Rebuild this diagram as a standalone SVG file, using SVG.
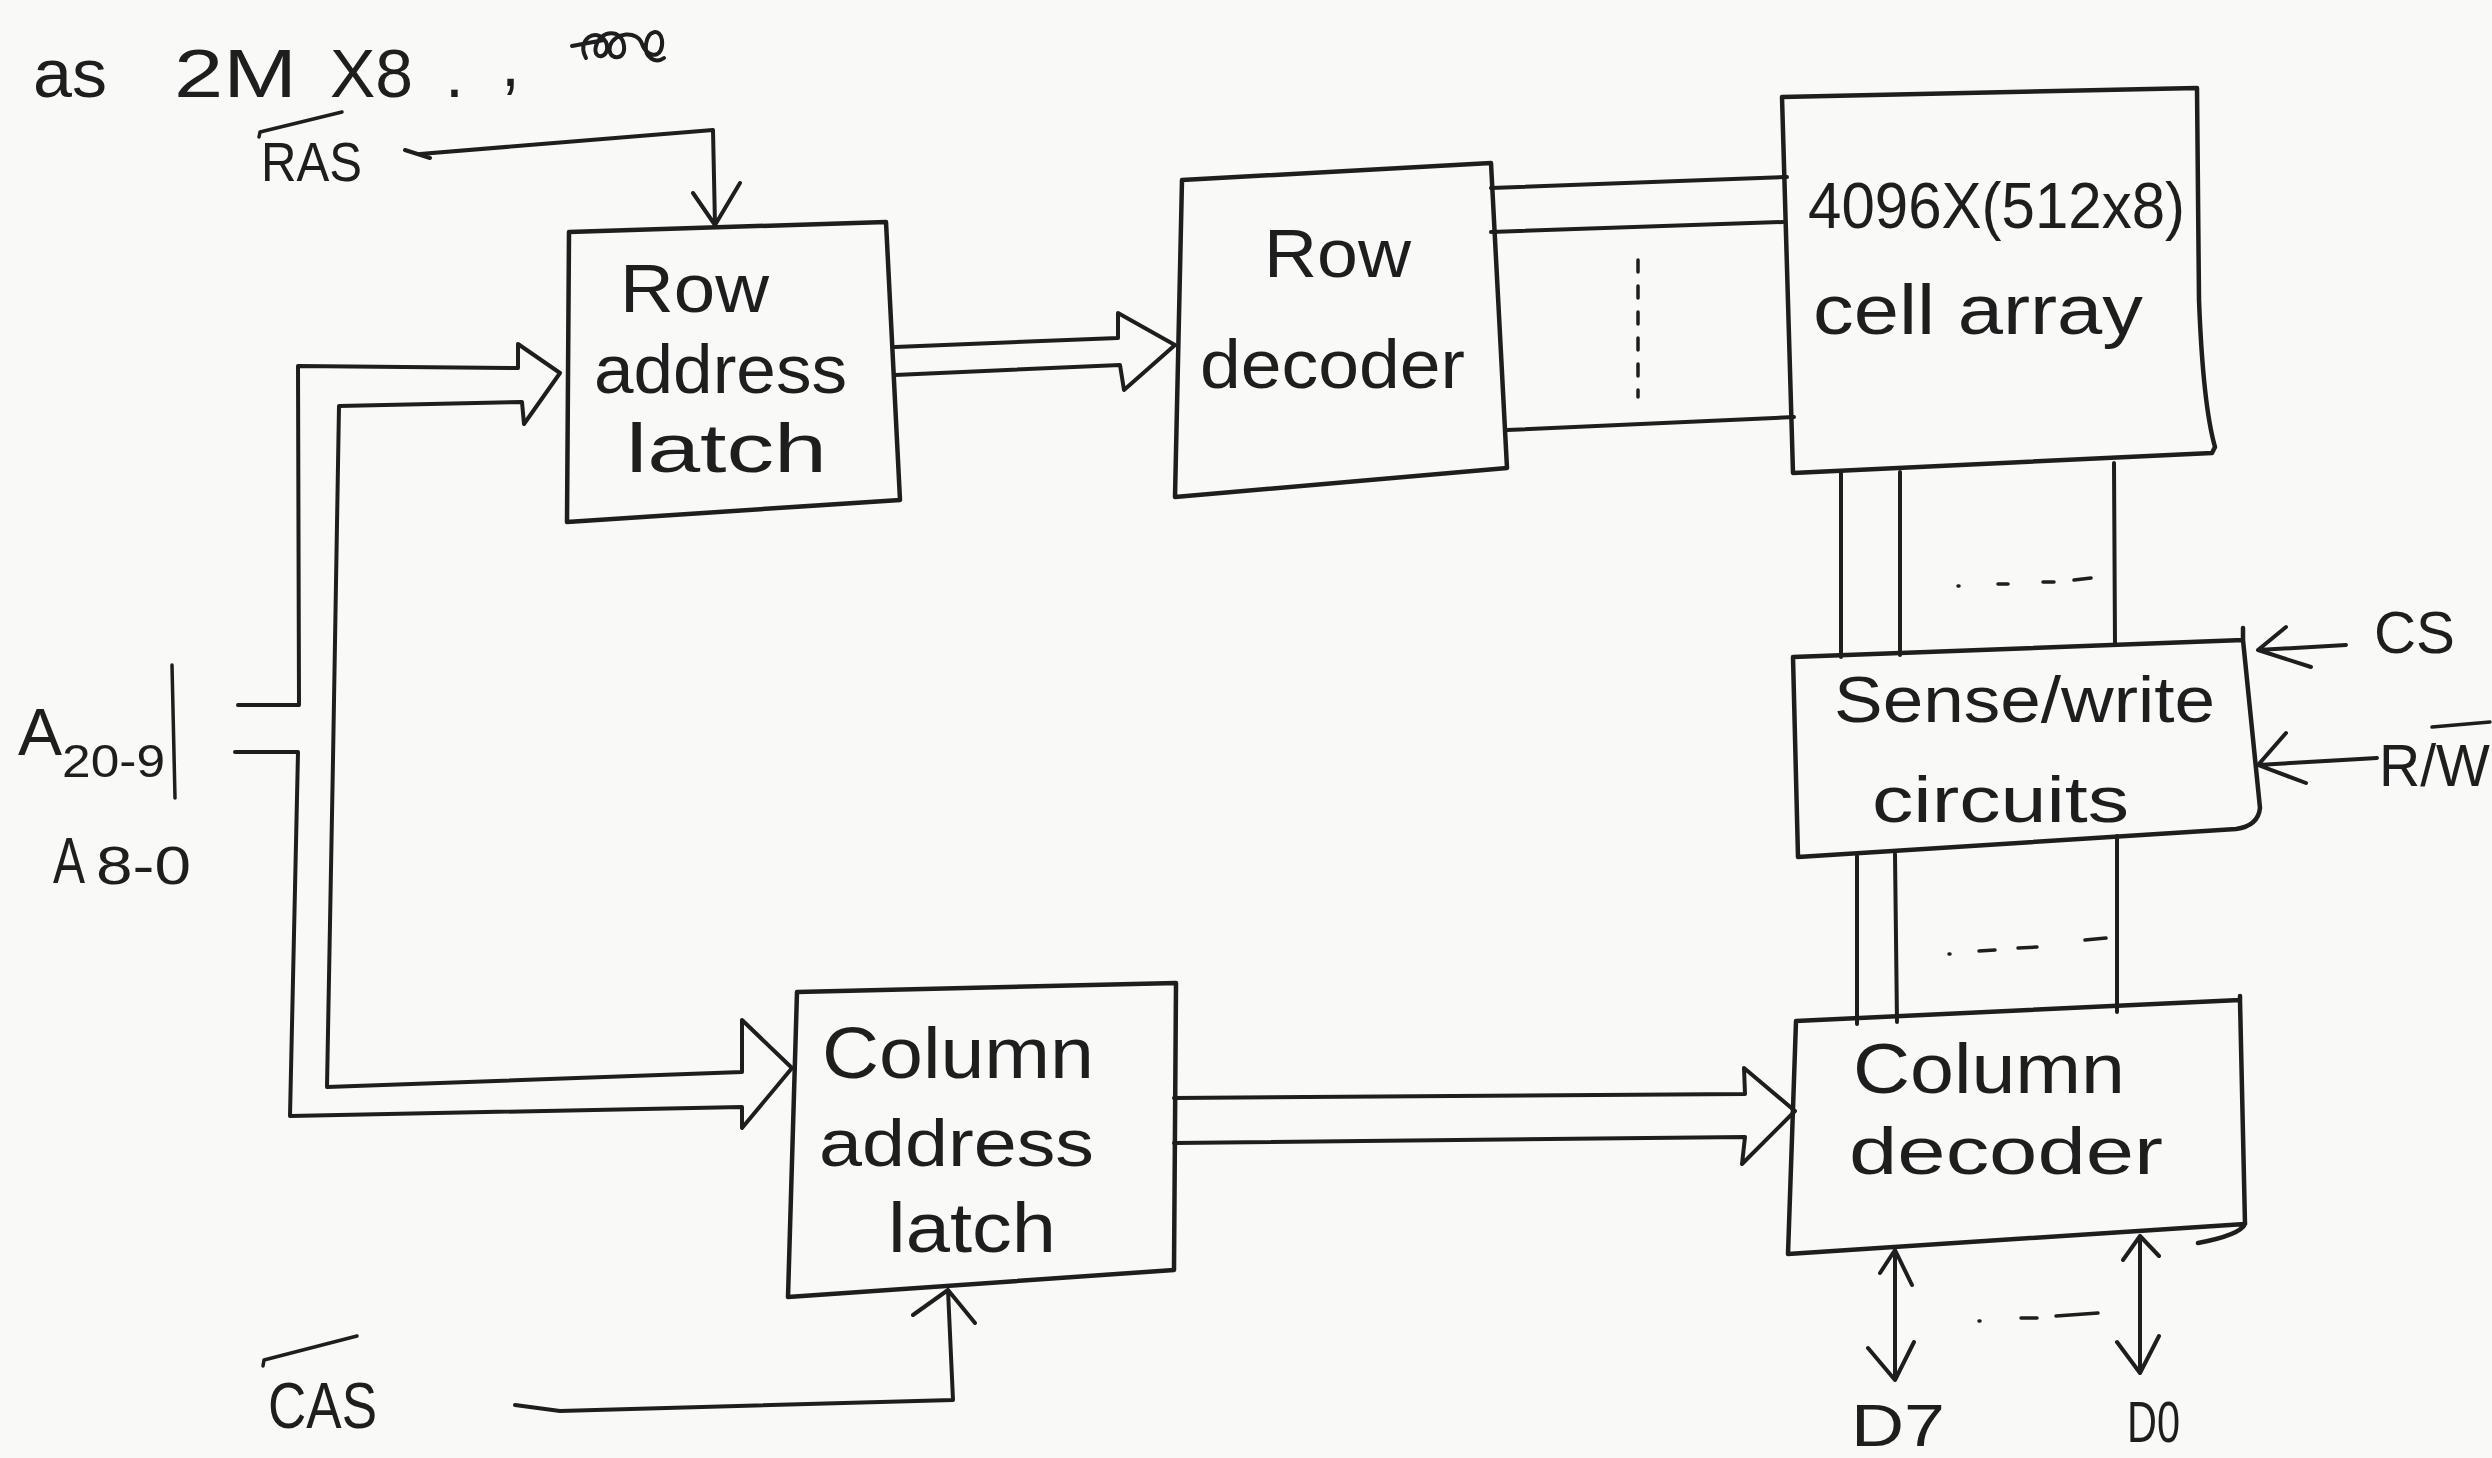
<svg xmlns="http://www.w3.org/2000/svg" width="2492" height="1458" viewBox="0 0 2492 1458">
<defs>
<style>
.ink{fill:none;stroke:#1e1e1e;stroke-width:4;stroke-linecap:round;stroke-linejoin:round}
.box{fill:none;stroke:#1e1e1e;stroke-width:4.5;stroke-linejoin:round;stroke-linecap:round}
.dash{fill:none;stroke:#1e1e1e;stroke-width:3.5;stroke-linecap:round}
.t{font-family:"Liberation Sans","DejaVu Sans",sans-serif;fill:#1e1e1e;font-size:68px}
</style>
</defs>
<rect x="0" y="0" width="2492" height="1458" fill="#f9f9f7"/>

<g id="title">
<text class="t" style="font-size:68px" x="33" y="97" textLength="74" lengthAdjust="spacingAndGlyphs">as</text>
<text class="t" style="font-size:68px" x="174" y="97" textLength="123" lengthAdjust="spacingAndGlyphs">2M</text>
<text class="t" style="font-size:68px" x="330" y="97" textLength="83" lengthAdjust="spacingAndGlyphs">X8</text>
<text class="t" style="font-size:68px" x="445" y="97">.</text>
<text class="t" style="font-size:68px" x="501" y="86">,</text>
<path class="ink" style="stroke-width:4" d="M572,46 L604,40 M586,58 C576,40 596,26 606,42 C612,58 592,62 596,46 C600,30 622,28 624,46 C626,62 606,60 610,46 C614,32 638,30 642,44 C648,60 664,58 662,40 C660,28 648,30 646,44 C644,58 656,64 664,58"/>
</g>

<g id="ras-label">
<text class="t" style="font-size:56px" x="261" y="181" textLength="101" lengthAdjust="spacingAndGlyphs">RAS</text>
<path class="ink" style="stroke-width:3.5" d="M259,137 L260,132 L342,112"/>
</g>

<g id="cas-label">
<text class="t" style="font-size:64px" x="268" y="1428" textLength="109" lengthAdjust="spacingAndGlyphs">CAS</text>
<path class="ink" style="stroke-width:3.5" d="M263,1366 L264,1360 L357,1336"/>
</g>

<g id="address-label">
<text class="t" x="18" y="755" style="font-size:66px">A<tspan style="font-size:46px" dy="22" textLength="103" lengthAdjust="spacingAndGlyphs">20-9</tspan></text>
<path class="ink" style="stroke-width:3.5" d="M172,665 L175,798"/>
<text class="t" style="font-size:64px" x="53" y="883" textLength="32" lengthAdjust="spacingAndGlyphs">A</text>
<text class="t" style="font-size:54px" x="96" y="884" textLength="95" lengthAdjust="spacingAndGlyphs">8-0</text>
</g>

<g id="cs-label">
<text class="t" style="font-size:60px" x="2374" y="653" textLength="81" lengthAdjust="spacingAndGlyphs">CS</text>
</g>
<g id="rw-label">
<text class="t" style="font-size:60px" x="2379" y="786" textLength="111" lengthAdjust="spacingAndGlyphs">R/W</text>
<path class="ink" style="stroke-width:3.5" d="M2432,727 L2490,722"/>
</g>
<g id="d7-label">
<text class="t" style="font-size:60px" x="1851" y="1446" textLength="94" lengthAdjust="spacingAndGlyphs">D7</text>
</g>
<g id="d0-label">
<text class="t" style="font-size:58px" x="2127" y="1442" textLength="53" lengthAdjust="spacingAndGlyphs">D0</text>
</g>

<g id="row-address-latch">
<path class="box" d="M569,232 L886,222 L900,500 L567,522 Z"/>
<text class="t" x="620" y="312" textLength="149" lengthAdjust="spacingAndGlyphs">Row</text>
<text class="t" x="594" y="393" textLength="253" lengthAdjust="spacingAndGlyphs">address</text>
<text class="t" x="626" y="472" textLength="201" lengthAdjust="spacingAndGlyphs">latch</text>
</g>

<g id="row-decoder">
<path class="box" d="M1182,180 L1491,163 L1507,468 L1175,497 Z"/>
<text class="t" x="1264" y="277" textLength="147" lengthAdjust="spacingAndGlyphs">Row</text>
<text class="t" x="1200" y="388" textLength="265" lengthAdjust="spacingAndGlyphs">decoder</text>
</g>

<g id="cell-array">
<path class="box" d="M1782,97 L2197,88 L2199,300 Q2203,405 2215,447 L2212,453 L1793,473 Z"/>
<text class="t" style="font-size:64px" x="1808" y="228" textLength="377" lengthAdjust="spacingAndGlyphs">4096X(512x8)</text>
<text class="t" style="font-size:70px" x="1813" y="334" textLength="330" lengthAdjust="spacingAndGlyphs">cell array</text>
</g>

<g id="sense-write-circuits">
<path class="box" d="M1793,657 L2243,640 L2260,808 Q2258,826 2236,829 L1798,857 Z M2243,628 L2243,640"/>
<text class="t" style="font-size:64px" x="1834" y="722" textLength="381" lengthAdjust="spacingAndGlyphs">Sense/write</text>
<text class="t" style="font-size:64px" x="1872" y="822" textLength="257" lengthAdjust="spacingAndGlyphs">circuits</text>
</g>

<g id="column-decoder">
<path class="box" d="M1796,1021 L2240,1000 L2245,1224 L1788,1254 Z M2240,996 L2240,1002 M2245,1224 Q2240,1235 2198,1243"/>
<text class="t" style="font-size:70px" x="1853" y="1093" textLength="272" lengthAdjust="spacingAndGlyphs">Column</text>
<text class="t" style="font-size:66px" x="1849" y="1174" textLength="314" lengthAdjust="spacingAndGlyphs">decoder</text>
</g>

<g id="column-address-latch">
<path class="box" d="M797,992 L1176,983 L1174,1270 L788,1297 Z"/>
<text class="t" style="font-size:72px" x="822" y="1078" textLength="272" lengthAdjust="spacingAndGlyphs">Column</text>
<text class="t" style="font-size:66px" x="819" y="1166" textLength="275" lengthAdjust="spacingAndGlyphs">address</text>
<text class="t" style="font-size:70px" x="888" y="1252" textLength="168" lengthAdjust="spacingAndGlyphs">latch</text>
</g>

<g id="connectors">
<path class="ink" d="M238,705 L299,705 L298,366 L518,368 L518,344 L560,373 L524,424 L522,402 L339,406 L333,760 L327,1087 L742,1072 L742,1020 L792,1068 L742,1128 L742,1107 L290,1116 L298,752 L235,752"/>
<path class="ink" d="M895,347 L1118,338 L1118,313 L1175,345 L1124,390 L1120,365 L895,375"/>
<path class="ink" d="M1491,188 L1787,177 M1491,232 L1783,222 M1507,430 L1794,417"/>
<path class="dash" style="stroke-dasharray:12 14" d="M1638,260 L1638,397"/>
<path class="ink" d="M1841,473 L1841,657 M1900,472 L1900,655 M2114,463 L2115,645"/>
<path class="dash" d="M1958,586 L1959,586 M1998,584 L2008,584 M2043,582 L2054,582 M2074,580 L2091,578"/>
<path class="ink" d="M1857,856 L1857,1024 M1895,854 L1897,1022 M2117,836 L2117,1012"/>
<path class="dash" d="M1949,954 L1950,954 M1979,951 L1995,950 M2018,948 L2037,947 M2085,940 L2106,938"/>
<path class="ink" d="M1174,1098 L1745,1094 L1744,1068 L1795,1111 L1742,1164 L1745,1137 L1174,1143"/>
<path class="ink" d="M405,150 L430,158 M420,154 L713,130 L715,225 M693,193 L715,225 L740,183"/>
<path class="ink" d="M515,1405 L560,1411 L953,1400 L948,1290 M913,1315 L948,1290 L975,1323"/>
<path class="ink" d="M2346,645 L2258,650 M2286,627 L2258,650 L2311,667"/>
<path class="ink" d="M2377,758 L2258,765 M2286,733 L2258,765 L2306,783"/>
<path class="ink" d="M1895,1250 L1895,1380 M1880,1273 L1895,1250 L1912,1285 M1868,1348 L1895,1380 L1914,1342"/>
<path class="ink" d="M2140,1236 L2140,1373 M2123,1260 L2140,1236 L2159,1256 M2117,1342 L2140,1373 L2159,1336"/>
<path class="dash" d="M1979,1321 L1980,1321 M2021,1318 L2037,1318 M2056,1316 L2098,1313"/>
</g>
</svg>
